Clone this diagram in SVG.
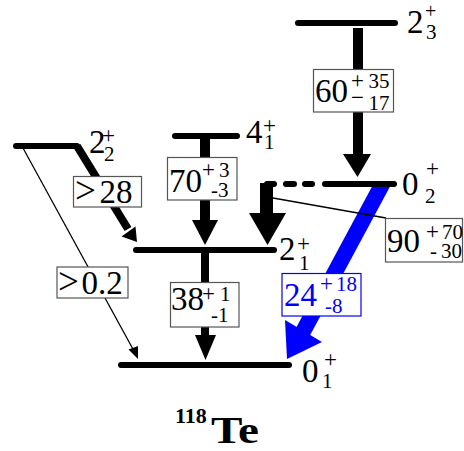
<svg xmlns="http://www.w3.org/2000/svg" width="464" height="451" viewBox="0 0 464 451">
<style>
.lvl{stroke:#000;stroke-width:6;stroke-linecap:round;fill:none}
.t{font-family:"Liberation Serif","Times New Roman",serif;fill:#000}
.big{font-size:33px}
.sm{font-size:21px}
.pl{font-size:23px}
.box{fill:#fff;stroke:#555;stroke-width:1.2}
.bbox{fill:#fff;stroke:#00f;stroke-width:1.2}
.blue{fill:#00f}
.thin{stroke:#000;stroke-width:1.3;fill:none}
.head{fill:#000}
.title{font-family:"Liberation Serif","Times New Roman",serif;font-weight:bold;fill:#000}
</style>
<rect width="464" height="451" fill="#fff"/>
<g id="connectors">
  <!-- 2_3 -> 0_2 -->
  <rect x="353" y="28" width="10" height="128" fill="#000"/>
  <polygon class="head" points="343,154 371,154 357.5,177"/>
  <!-- 0_2 -> 0_1 blue -->
  <polygon class="blue" points="375,181 393,181 308.6,338 293.3,333"/>
  <polygon class="blue" points="285,320 322,342 287,359"/>
  <!-- 0_2 -> 2_1 -->
  <rect x="260" y="183" width="13" height="32" fill="#000"/>
  <polygon class="head" points="249,213 286,213 267.5,245"/>
  <line class="thin" x1="273" y1="198" x2="386" y2="218"/>
  <!-- 4_1 -> 2_1 -->
  <rect x="200" y="138" width="10" height="84" fill="#000"/>
  <polygon class="head" points="192,220 218,220 205,245"/>
  <!-- 2_1 -> 0_1 -->
  <rect x="201" y="252" width="8" height="85" fill="#000"/>
  <polygon class="head" points="195,335 216,335 205.5,360"/>
  <!-- 2_2 -> 2_1 -->
  <line x1="77" y1="146" x2="128" y2="229" stroke="#000" stroke-width="8"/>
  <polygon class="head" points="121.5,236.5 135.5,226.5 137,242"/>
  <!-- 2_2 -> 0_1 -->
  <line class="thin" x1="23" y1="148" x2="134" y2="351"/>
  <polygon class="head" points="128.5,349.5 138,346 138,359"/>

  <g id="lab60">
    <rect class="box" x="313.5" y="69.5" width="80" height="42.5"/>
    <text class="t"><tspan class="big" x="315" y="102">60</tspan><tspan class="pl" x="351" y="88">+</tspan><tspan class="sm" x="368.5" y="88">35</tspan><tspan class="pl" x="351" y="105">−</tspan><tspan class="sm" x="368.5" y="110">17</tspan></text>
  </g>
  <g id="lab70">
    <rect class="box" x="167.5" y="157.5" width="69.5" height="42.5"/>
    <text class="t"><tspan class="big" x="169" y="192">70</tspan><tspan class="pl" x="202" y="177">+</tspan><tspan class="sm" x="219" y="177">3</tspan><tspan class="sm" x="211" y="197">-3</tspan></text>
  </g>
  <g id="lab38">
    <rect class="box" x="170.5" y="282.5" width="68.5" height="44.5"/>
    <text class="t"><tspan class="big" x="171" y="310">38</tspan><tspan class="pl" x="202" y="301">+</tspan><tspan class="sm" x="220" y="301">1</tspan><tspan class="sm" x="211" y="322">-1</tspan></text>
  </g>
  <g id="lab90">
    <rect class="box" x="385.5" y="218.5" width="77" height="43.5"/>
    <text class="t"><tspan class="big" x="387" y="252">90</tspan><tspan class="pl" x="426" y="239">+</tspan><tspan class="sm" x="442" y="239">70</tspan><tspan class="sm" x="430" y="258">-</tspan><tspan class="sm" x="441" y="258">30</tspan></text>
  </g>
  <g id="lab24">
    <rect class="bbox" x="282" y="273.5" width="79" height="42.5"/>
    <text class="t" style="fill:#00f"><tspan class="big" x="284" y="305.5">24</tspan><tspan class="pl" x="320" y="291">+</tspan><tspan class="sm" x="336" y="291">18</tspan><tspan class="sm" x="325" y="313">-</tspan><tspan class="sm" x="332" y="313">8</tspan></text>
  </g>
  <g id="lab28">
    <rect class="box" x="73.5" y="176.5" width="68" height="30.5"/>
    <text class="t"><tspan x="75" y="203" font-size="37">&gt;</tspan><tspan class="big" x="99.5" y="203">28</tspan></text>
  </g>
  <g id="lab02">
    <rect class="box" x="57" y="267" width="71" height="31"/>
    <text class="t"><tspan x="58" y="294" font-size="37">&gt;</tspan><tspan class="big" x="81.5" y="294">0.2</tspan></text>
  </g>
</g>
<g id="level-2-3">
  <line class="lvl" x1="298" y1="23" x2="395" y2="23"/>
  <text class="t"><tspan class="big" x="407" y="33">2</tspan><tspan x="425" y="18" font-size="20">+</tspan><tspan class="sm" x="426" y="39">3</tspan></text>
</g>
<g id="level-0-2">
  <line class="lvl" x1="325" y1="184" x2="394" y2="184"/>
  <line class="lvl" x1="267" y1="184" x2="274" y2="184"/>
  <line class="lvl" x1="286" y1="184" x2="294" y2="184"/>
  <line class="lvl" x1="305" y1="184" x2="312" y2="184"/>
  <text class="t"><tspan class="big" x="402" y="195">0</tspan><tspan class="pl" x="426" y="176">+</tspan><tspan class="sm" x="425" y="203">2</tspan></text>
</g>
<g id="level-4-1">
  <line class="lvl" x1="175" y1="136" x2="237" y2="136"/>
  <text class="t"><tspan class="big" x="246" y="143">4</tspan><tspan class="pl" x="263" y="133">+</tspan><tspan class="sm" x="264" y="149">1</tspan></text>
</g>
<g id="level-2-2">
  <line class="lvl" x1="16" y1="146" x2="77" y2="146"/>
  <text class="t"><tspan class="big" x="89" y="153">2</tspan><tspan class="pl" x="102" y="143">+</tspan><tspan class="sm" x="104" y="161">2</tspan></text>
</g>
<g id="level-2-1">
  <line class="lvl" x1="136" y1="250" x2="274" y2="250"/>
  <text class="t"><tspan class="big" x="279" y="260">2</tspan><tspan class="pl" x="297" y="251">+</tspan><tspan class="sm" x="299" y="270">1</tspan></text>
</g>
<g id="level-0-1">
  <line class="lvl" x1="121" y1="365" x2="289" y2="365"/>
  <text class="t"><tspan class="big" x="302" y="382">0</tspan><tspan class="pl" x="324" y="367">+</tspan><tspan class="sm" x="322" y="388">1</tspan></text>
</g>
<g id="title">
  <text class="title"><tspan x="175" y="423" font-size="22">118</tspan><tspan x="211" y="443" font-size="38" textLength="48" lengthAdjust="spacingAndGlyphs">Te</tspan></text>
</g>
</svg>
